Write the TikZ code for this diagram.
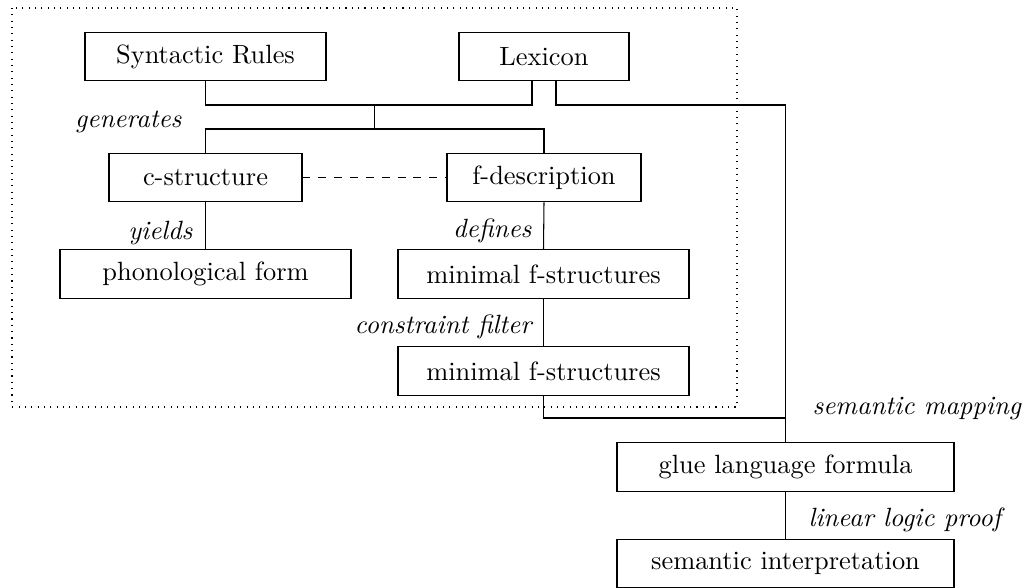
\documentclass[tikz,border=0pt]{standalone}
\usetikzlibrary{calc}
\begin{document}
\begin{tikzpicture}[x=0.37879pt,y=-0.37879pt,
  box/.style={draw, inner sep=0pt, minimum height=18.4pt},
  lbl/.style={font=\itshape, inner sep=0pt},
  conn/.style={draw, line width=0.4pt}]
\useasboundingbox (0,0) rectangle (1026,588);
% frame
\draw[dotted] (12,8) rectangle (737,407);
% boxes
\node[box, minimum width=91.29pt] (sr)   at (205.5,56.5) {Syntactic Rules};
\node[box, minimum width=64.39pt] (lex)  at (544,56.5)   {Lexicon};
\node[box, minimum width=73.11pt] (cs)   at (205.5,177.5){c-structure};
\node[box, minimum width=73.49pt] (fd)   at (544,177.5)  {f-description};
\node[box, minimum width=110.23pt] (pf)  at (205.5,274)  {phonological form};
\node[box, minimum width=110.23pt] (mf1) at (543.5,274)  {minimal f-structures};
\node[box, minimum width=110.23pt] (mf2) at (543.5,371)  {minimal f-structures};
\node[box, minimum width=127.65pt] (gl)  at (785.5,467)  {glue language formula};
\node[box, minimum width=127.65pt] (si)  at (785.5,563.5){semantic interpretation};
% junction coordinates
\coordinate (j1) at (374.75,105);
\coordinate (j2) at (374.75,129);
\coordinate (lexL) at ($(lex.south)+(-12,0)$);
\coordinate (lexR) at ($(lex.south)+(12,0)$);
\coordinate (jr) at (785.5,105);
\coordinate (jm) at (785.5,418);
% connectors
\draw[conn] (sr.south) |- (j1) -| (lexL);
\draw[conn] (j1) -- (j2);
\draw[conn] (cs.north) |- (j2) -| (fd.north);
\draw[conn] (lexR) |- (jr) -- (gl.north);
\draw[conn] (mf2.south) |- (jm);
\draw[conn] (cs.south) -- (pf.north);
\draw[conn] (fd.south) -- (mf1.north);
\draw[conn] (mf1.south) -- (mf2.north);
\draw[conn] (gl.south) -- (si.north);
\draw[conn, dashed] (cs.east) -- (fd.west);
% labels
\node[lbl, anchor=base east] (lgen) at (182,128) {generates};
\node[lbl, anchor=base east] (lyie) at (193,240) {yields};
\node[lbl, anchor=base east] (ldef) at (532,238) {defines};
\node[lbl, anchor=base east] (lcon) at (532,334) {constraint filter};
\node[lbl, anchor=base west] (lsem) at (812,415) {semantic mapping};
\node[lbl, anchor=base west] (llin) at (808,527) {linear logic proof};
\end{tikzpicture}
\end{document}
